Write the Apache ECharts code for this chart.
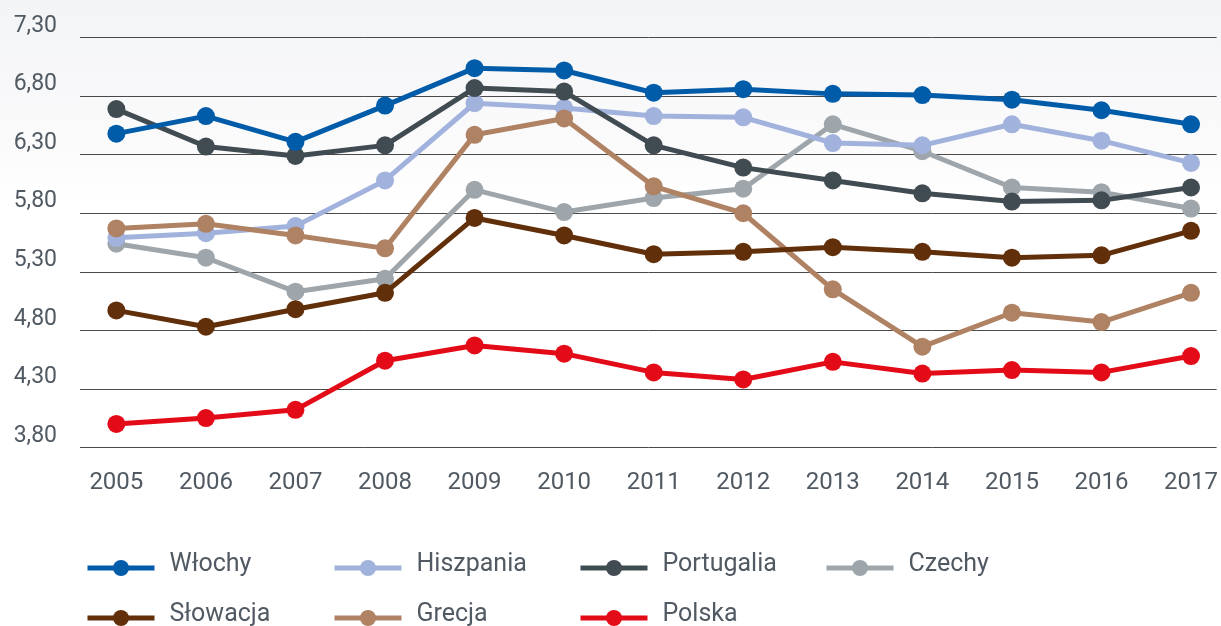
<!DOCTYPE html>
<html>
<head>
<meta charset="utf-8">
<script src="https://cdn.jsdelivr.net/npm/echarts@6/dist/echarts.min.js"></script>
<style>
  html, body { margin: 0; padding: 0; }
  body { background: linear-gradient(#f3f4f6 0px, #fbfbfc 150px, #ffffff 200px); }
  #chart { width: 1221px; height: 626px; }
</style>
</head>
<body>
<div id="chart"></div>
<script>
// lata i wartości
var years = [2005, 2006, 2007, 2008, 2009, 2010, 2011, 2012, 2013, 2014, 2015, 2016, 2017];
var yTicks = [3.8, 4.3, 4.8, 5.3, 5.8, 6.3, 6.8, 7.3];

var wlochy     = [6.48, 6.63, 6.41, 6.72, 7.04, 7.02, 6.83, 6.86, 6.82, 6.81, 6.77, 6.68, 6.56];
var hiszpania  = [5.59, 5.63, 5.69, 6.08, 6.74, 6.70, 6.63, 6.62, 6.40, 6.38, 6.56, 6.42, 6.23];
var portugalia = [6.69, 6.37, 6.29, 6.38, 6.87, 6.84, 6.38, 6.19, 6.08, 5.97, 5.90, 5.91, 6.02];
var czechy     = [5.54, 5.42, 5.13, 5.24, 6.00, 5.81, 5.93, 6.01, 6.56, 6.33, 6.02, 5.98, 5.84];
var slowacja   = [4.97, 4.83, 4.98, 5.12, 5.76, 5.61, 5.45, 5.47, 5.51, 5.47, 5.42, 5.44, 5.65];
var grecja     = [5.67, 5.71, 5.61, 5.50, 6.47, 6.61, 6.03, 5.80, 5.15, 4.66, 4.95, 4.87, 5.12];
var polska     = [4.00, 4.05, 4.12, 4.54, 4.67, 4.60, 4.44, 4.38, 4.53, 4.43, 4.46, 4.44, 4.58];

var names  = ['Włochy', 'Hiszpania', 'Portugalia', 'Czechy', 'Słowacja', 'Grecja', 'Polska'];
var values = [wlochy, hiszpania, portugalia, czechy, slowacja, grecja, polska];
var colors = ['#005ca9', '#a1b2dd', '#414b52', '#9ea6ab', '#61300b', '#b08264', '#e30b18'];
var zOrder = [5, 3, 4, 2, 6, 5, 7];

var chart = echarts.init(document.getElementById('chart'));

var series = names.map(function (name, i) {
  return {
    name: name,
    type: 'line',
    z: zOrder[i],
    symbol: 'circle',
    symbolSize: 18,
    showSymbol: true,
    lineStyle: { width: 5, color: colors[i] },
    itemStyle: { color: colors[i] },
    emphasis: { disabled: true },
    data: years.map(function (y, k) { return [y, values[i][k]]; })
  };
});

// legenda: 4 pozycje w pierwszym wierszu, 3 w drugim
var legendPos = [[85, 552], [332, 552], [578, 552], [824, 552], [85, 602], [332, 602], [578, 602]];
var legends = names.map(function (name, i) {
  return {
    data: [name],
    left: legendPos[i][0],
    top: legendPos[i][1],
    padding: 0,
    itemWidth: 67,
    itemHeight: 20,
    lineStyle: { width: 5 },
    selectedMode: false,
    formatter: '{t|{name}}',
    textStyle: {
      fontFamily: 'Roboto',
      fontSize: 25,
      color: '#515a62',
      padding: [0, 0, 0, 10],
      rich: {
        t: {
          fontFamily: 'Roboto',
          fontSize: 25,
          color: '#515a62',
          lineHeight: 32,
          verticalAlign: 'top'
        }
      }
    }
  };
});

chart.setOption({
  animation: false,
  legend: legends,
  grid: { left: 80, right: 0, top: 37.7, bottom: 178.7 },
  xAxis: {
    type: 'value',
    min: 2004.594,
    max: 2017.286,
    splitLine: { show: false },
    axisLine: { show: false },
    axisTick: { show: false },
    axisLabel: {
      customValues: years,
      formatter: function (v) { return String(v); },
      fontFamily: 'Roboto',
      fontSize: 24,
      color: '#515a62',
      margin: 24
    }
  },
  yAxis: {
    type: 'value',
    min: 3.8,
    max: 7.3,
    interval: 0.5,
    axisLine: { show: false },
    axisTick: { show: false, customValues: yTicks },
    splitLine: { show: true, lineStyle: { color: '#4a4a4a', width: 1 } },
    axisLabel: {
      customValues: yTicks,
      formatter: function (v) { return v.toFixed(2).replace('.', ','); },
      fontFamily: 'Roboto',
      fontSize: 23,
      color: '#515a62',
      margin: 23,
      verticalAlign: 'bottom'
    }
  },
  series: series
});
</script>
</body>
</html>
